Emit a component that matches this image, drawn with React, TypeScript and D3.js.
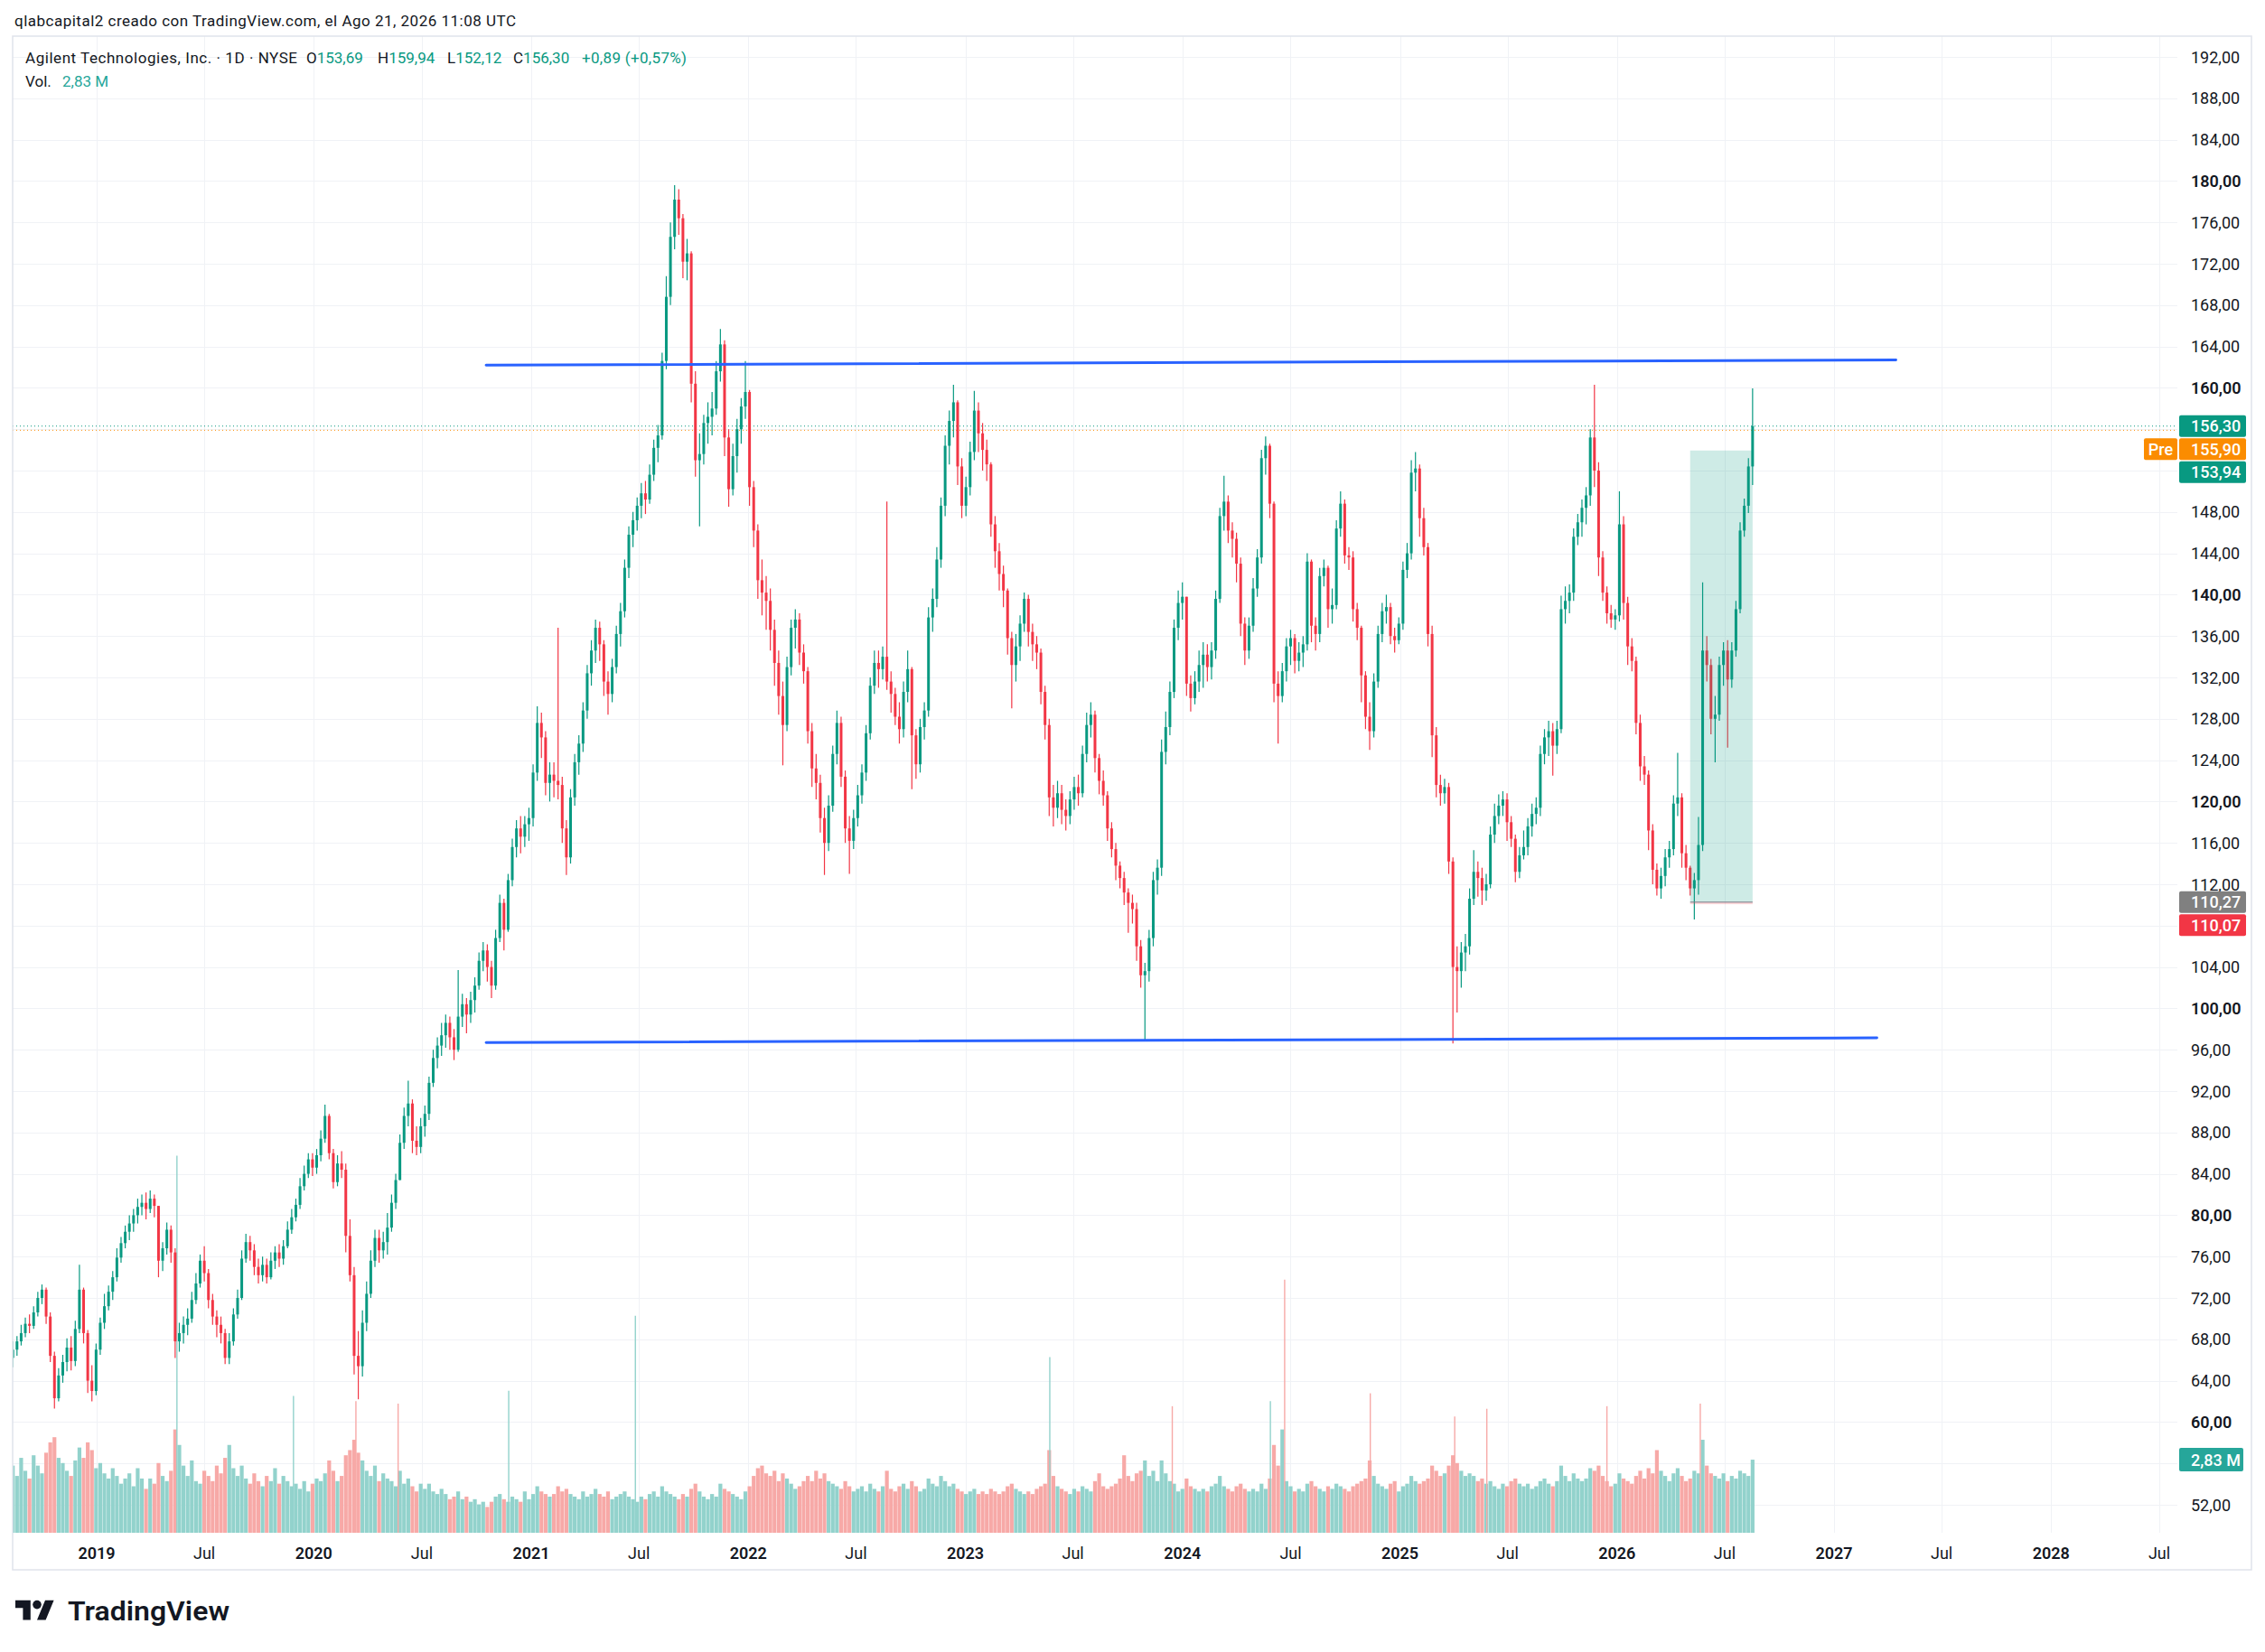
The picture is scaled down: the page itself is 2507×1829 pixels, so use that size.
import * as d3 from "d3";
import React, { useEffect, useRef } from "react";

const W = 2507;
const H = 1829;
const FONT = "Roboto, 'Noto Sans', Arial, sans-serif";

// weekly candles, first week starts 2018-08-13
const FIRST_WEEK = "2018-08-13";
const FIRST_OPEN = 66.2;

const closes = [
  67.0, 67.8, 68.6, 69.5, 69.3, 70.6, 72.0, 72.8, 70.2, 66.4, 62.3, 64.5, 65.8,
  67.2, 65.9, 69.0, 72.8, 68.6, 64.0, 63.0, 67.0, 69.6, 71.2, 72.6, 74.0, 75.9,
  77.3, 78.4, 79.2, 80.0, 80.8, 81.2, 80.6, 81.6, 80.9, 75.6, 76.8, 78.6, 76.4,
  67.8, 68.6, 69.4, 70.0, 71.8, 73.4, 75.6, 74.4, 71.8, 70.2, 69.4, 68.6, 66.2,
  67.8, 70.4, 72.0, 75.8, 77.4, 76.6, 75.0, 74.2, 75.2, 74.0, 75.6, 76.4, 75.8,
  77.0, 78.6, 79.8, 81.0, 82.8, 84.0, 85.4, 84.6, 85.8, 87.4, 89.6, 86.0, 83.2,
  85.0, 84.4, 78.0, 74.2, 66.4, 65.4, 69.6, 72.4, 75.6, 77.8, 76.6, 77.4, 78.8,
  81.2, 83.4, 87.0, 89.6, 90.8, 87.2, 86.6, 88.6, 89.8, 92.8, 95.2, 96.4, 97.4,
  98.6, 97.2, 96.0, 99.2, 100.4, 99.4, 100.8, 102.2, 104.6, 105.6, 104.0, 102.2, 106.8,
  110.2, 107.6, 112.4, 115.6, 117.4, 116.6, 117.8, 118.4, 122.8, 127.6, 126.2, 121.8, 122.6,
  122.0, 121.6, 117.4, 114.6, 120.4, 123.8, 125.6, 128.8, 132.4, 134.6, 136.8, 135.2, 131.6,
  130.4, 133.0, 136.2, 138.4, 142.6, 145.8, 147.2, 148.6, 149.8, 149.2, 151.6, 154.2, 155.4,
  162.6, 168.8, 174.6, 178.2, 176.4, 172.2, 173.0, 160.4, 153.0, 153.6, 156.6, 157.2, 158.0,
  161.6, 164.2, 155.2, 150.2, 153.4, 156.0, 158.2, 159.6, 150.4, 146.2, 141.4, 140.2, 139.4,
  136.6, 133.4, 130.2, 127.4, 133.0, 136.8, 137.6, 134.4, 132.6, 126.8, 123.2, 121.8, 118.4,
  116.0, 119.6, 124.6, 127.6, 122.4, 117.4, 116.2, 118.4, 120.6, 122.8, 126.6, 131.2, 133.4,
  132.8, 134.0, 131.6, 130.4, 128.2, 127.0, 130.6, 132.8, 126.4, 123.6, 127.2, 128.8, 137.8,
  139.6, 143.4, 148.6, 154.4, 156.8, 158.6, 152.4, 148.6, 150.4, 153.8, 157.8, 155.6, 154.0,
  152.6, 146.8, 144.2, 142.0, 140.4, 135.8, 133.2, 135.0, 137.2, 139.6, 136.4, 135.2, 134.4,
  130.6, 127.4, 120.4, 119.4, 120.8, 119.2, 118.6, 120.2, 121.4, 120.8, 124.6, 127.4, 128.4,
  124.2, 122.0, 120.6, 117.4, 115.4, 113.8, 112.6, 111.2, 110.2, 109.6, 106.0, 103.2, 103.6,
  106.8, 112.4, 113.6, 124.8, 127.2, 130.6, 136.8, 139.2, 139.8, 131.4, 130.0, 131.6, 133.2,
  134.2, 133.0, 134.6, 139.6, 147.6, 149.0, 146.2, 145.4, 143.0, 137.2, 134.6, 137.0, 140.6,
  143.6, 153.2, 154.4, 148.8, 131.4, 130.2, 132.6, 135.0, 135.8, 133.6, 134.4, 135.2, 143.2,
  137.0, 136.2, 141.8, 142.6, 138.6, 139.0, 146.4, 148.8, 143.8, 143.6, 138.6, 136.8, 132.2,
  128.2, 126.8, 131.6, 136.2, 138.4, 138.8, 136.0, 135.6, 137.2, 142.4, 144.0, 151.8, 152.2,
  147.4, 144.6, 136.2, 126.4, 121.6, 120.8, 121.4, 114.2, 104.0, 103.6, 105.4, 106.0, 110.6,
  113.2, 112.6, 111.4, 112.0, 116.8, 118.6, 119.6, 120.2, 118.0, 116.4, 113.2, 114.8, 115.6,
  117.6, 118.8, 119.4, 124.6, 126.2, 126.8, 125.4, 127.0, 138.6, 139.4, 140.2, 145.6, 147.0,
  148.4, 149.6, 155.2, 152.0, 143.6, 140.2, 138.2, 137.6, 138.0, 146.8, 139.2, 135.0, 133.6,
  127.6, 123.4, 122.6, 117.2, 113.4, 111.6, 112.8, 114.6, 115.4, 119.8, 120.4, 115.0, 113.6,
  111.6, 112.4, 115.8, 134.6, 133.2, 128.0, 128.4, 133.2, 134.6, 131.8, 134.6, 138.6, 146.2,
  148.6, 152.4, 156.3,
];

const highs = [
  67.8, 68.3, 69.4, 70.1, 70.4, 71.2, 72.6, 73.3, 73.0, 70.6, 66.8, 65.2, 66.5,
  68.1, 68.3, 69.8, 75.2, 73.0, 68.9, 65.5, 67.6, 70.1, 72.4, 73.2, 74.6, 76.8,
  77.9, 79.0, 80.0, 80.6, 81.6, 82.0, 82.2, 82.4, 82.0, 80.8, 77.4, 79.3, 79.0,
  76.8, 69.6, 70.2, 71.0, 72.6, 74.4, 76.2, 77.0, 74.8, 72.4, 70.8, 70.2, 69.0,
  68.6, 71.0, 72.8, 76.6, 78.2, 78.0, 77.2, 75.8, 76.0, 75.8, 76.4, 77.0, 77.2,
  77.6, 79.4, 80.6, 81.6, 83.6, 84.8, 86.0, 86.0, 86.4, 88.2, 90.7, 89.8, 86.4,
  85.8, 86.2, 85.0, 79.6, 75.0, 68.8, 70.8, 73.6, 76.6, 78.6, 78.6, 78.4, 80.2,
  82.0, 84.0, 87.8, 90.4, 93.0, 91.2, 88.6, 89.4, 90.6, 93.4, 96.0, 97.2, 98.6,
  99.4, 99.2, 98.0, 103.7, 101.4, 101.0, 101.6, 103.0, 105.4, 106.4, 106.2, 104.6, 107.6,
  111.0, 110.6, 113.0, 116.4, 118.2, 118.6, 118.6, 119.4, 123.6, 129.2, 128.6, 126.8, 123.8,
  123.8, 136.8, 122.4, 118.2, 121.2, 124.6, 126.4, 129.6, 133.2, 135.6, 137.6, 137.4, 135.6,
  132.6, 133.8, 137.0, 139.2, 143.4, 146.6, 148.0, 149.4, 150.8, 151.0, 152.6, 155.0, 156.4,
  163.4, 170.8, 176.0, 179.6, 179.2, 176.8, 174.4, 173.2, 161.6, 155.6, 157.4, 158.6, 159.6,
  162.6, 165.7, 164.6, 156.0, 154.6, 157.0, 159.0, 162.6, 159.8, 151.0, 146.8, 143.4, 141.8,
  140.6, 137.6, 134.6, 131.6, 134.0, 137.6, 138.6, 138.2, 135.2, 133.0, 127.6, 124.6, 122.6,
  119.4, 120.6, 125.4, 128.8, 128.2, 123.0, 118.6, 119.2, 121.6, 123.6, 127.4, 132.0, 134.6,
  134.6, 135.0, 149.0, 132.6, 131.0, 129.6, 131.6, 134.6, 133.0, 127.0, 128.0, 129.6, 138.8,
  140.6, 144.6, 149.4, 155.4, 157.8, 160.3, 158.8, 153.2, 151.4, 154.8, 159.7, 158.6, 156.6,
  155.0, 152.8, 147.6, 145.0, 142.8, 140.6, 136.4, 136.2, 138.0, 140.2, 140.0, 137.2, 136.0,
  134.8, 131.2, 128.0, 121.6, 122.0, 121.6, 120.2, 121.0, 122.4, 122.6, 125.4, 128.6, 129.6,
  128.8, 124.6, 123.0, 121.0, 118.0, 116.0, 114.2, 113.2, 111.6, 111.0, 110.2, 106.6, 104.4,
  107.6, 113.2, 114.4, 126.0, 128.7, 131.6, 137.6, 140.4, 141.2, 139.6, 132.2, 132.6, 134.6,
  135.4, 135.2, 135.4, 140.4, 148.4, 151.5, 149.6, 147.0, 146.0, 143.6, 137.8, 137.8, 141.6,
  144.4, 154.0, 155.3, 154.6, 149.0, 132.6, 133.4, 135.8, 136.6, 136.2, 135.4, 136.0, 144.0,
  143.4, 137.8, 142.6, 143.4, 142.8, 140.6, 147.2, 150.0, 149.2, 144.6, 144.2, 139.2, 137.0,
  132.6, 129.6, 132.4, 137.0, 139.2, 140.0, 139.2, 136.8, 137.8, 143.2, 145.0, 153.0, 153.8,
  152.6, 148.4, 145.0, 137.0, 127.2, 122.6, 122.2, 121.8, 114.6, 106.0, 106.4, 107.2, 111.6,
  115.3, 114.2, 113.6, 113.0, 117.6, 119.8, 120.7, 121.0, 120.8, 118.6, 116.8, 115.6, 117.2,
  118.4, 119.8, 120.4, 125.4, 127.0, 127.8, 127.6, 127.8, 139.9, 140.8, 141.0, 146.4, 147.8,
  149.2, 150.4, 156.0, 160.3, 152.8, 144.2, 140.8, 139.0, 138.6, 150.0, 147.6, 139.8, 135.8,
  134.0, 128.4, 124.4, 123.0, 117.8, 114.0, 113.6, 115.4, 116.2, 120.6, 124.7, 120.8, 115.8,
  113.8, 113.1, 118.5, 141.2, 136.0, 133.8, 130.2, 134.0, 135.4, 135.6, 135.4, 139.4, 147.0,
  149.3, 153.2, 159.94,
];

const lows = [
  65.3, 66.4, 67.4, 68.2, 68.6, 69.0, 70.2, 71.4, 69.5, 65.8, 61.3, 62.0, 63.8,
  64.9, 65.0, 65.4, 68.6, 67.6, 62.8, 62.0, 62.6, 66.5, 69.0, 70.8, 71.8, 73.6,
  75.4, 76.8, 77.6, 78.4, 79.2, 80.0, 79.6, 80.2, 79.8, 74.0, 74.6, 76.2, 75.4,
  66.2, 66.8, 67.6, 68.4, 69.6, 71.4, 73.0, 73.6, 71.0, 69.4, 68.2, 67.6, 65.6,
  65.6, 67.4, 70.0, 71.8, 75.4, 75.6, 74.2, 73.4, 73.6, 73.4, 73.8, 74.8, 75.0,
  75.2, 76.8, 78.2, 79.4, 80.6, 82.4, 83.6, 83.8, 84.0, 85.2, 87.0, 85.4, 82.6,
  82.8, 83.6, 76.4, 73.6, 64.6, 62.2, 64.4, 68.8, 72.0, 75.0, 75.4, 75.8, 76.2,
  78.4, 80.6, 83.4, 86.4, 88.6, 86.0, 85.8, 86.0, 87.6, 89.2, 92.4, 94.2, 95.4,
  96.2, 96.0, 95.0, 95.8, 98.2, 97.6, 98.6, 99.6, 101.8, 103.6, 102.6, 101.0, 101.8,
  106.4, 105.6, 107.4, 111.8, 114.6, 115.0, 115.6, 116.2, 117.6, 122.0, 124.2, 120.6, 120.0,
  120.4, 120.2, 116.0, 112.9, 114.0, 119.6, 122.6, 124.8, 128.0, 131.2, 133.4, 133.6, 130.2,
  128.4, 129.6, 132.4, 135.0, 137.8, 141.6, 144.6, 146.2, 147.4, 147.8, 148.8, 151.0, 152.8,
  155.0, 161.8, 168.0, 173.4, 174.8, 170.6, 170.4, 158.6, 151.4, 146.6, 152.6, 154.6, 155.4,
  157.4, 160.6, 153.4, 148.5, 149.6, 151.8, 154.6, 157.0, 148.6, 144.6, 139.6, 138.0, 136.6,
  134.6, 131.2, 128.4, 123.5, 126.8, 132.2, 134.8, 133.2, 131.4, 125.6, 121.4, 120.2, 117.0,
  112.9, 115.2, 119.0, 123.6, 121.4, 116.0, 113.0, 115.4, 117.6, 119.8, 122.0, 126.0, 130.4,
  131.0, 131.8, 130.8, 128.6, 127.4, 125.6, 126.2, 129.6, 121.2, 122.2, 122.8, 126.0, 128.2,
  136.4, 138.8, 142.6, 147.6, 152.6, 155.2, 150.6, 147.4, 147.6, 149.6, 153.0, 153.8, 152.0,
  151.0, 145.6, 142.6, 140.4, 138.8, 134.2, 129.0, 131.6, 133.6, 136.4, 135.0, 133.6, 132.8,
  129.4, 126.0, 118.6, 117.6, 118.4, 117.8, 117.2, 117.8, 119.2, 119.6, 120.4, 123.8, 126.2,
  122.8, 120.7, 119.6, 116.2, 114.6, 112.4, 111.6, 110.0, 107.3, 108.2, 104.6, 102.0, 96.8,
  102.6, 106.0, 111.0, 112.8, 123.6, 126.4, 130.0, 135.6, 137.6, 130.2, 128.7, 129.4, 130.6,
  131.0, 131.6, 131.8, 133.8, 139.2, 146.2, 145.0, 143.6, 141.2, 136.0, 133.2, 133.8, 136.4,
  139.8, 143.0, 151.6, 147.4, 129.6, 125.6, 129.6, 131.6, 133.2, 132.4, 132.6, 133.0, 134.6,
  135.4, 134.6, 135.4, 140.8, 136.8, 137.2, 138.6, 145.6, 143.0, 142.4, 137.4, 135.6, 129.6,
  127.0, 125.0, 126.2, 131.0, 135.4, 137.2, 135.2, 134.4, 135.2, 136.6, 141.6, 143.4, 150.0,
  145.6, 143.8, 135.0, 124.3, 120.4, 119.6, 119.8, 113.0, 96.6, 99.6, 102.0, 103.6, 105.2,
  110.0, 110.8, 110.0, 110.4, 111.6, 116.0, 117.8, 118.6, 116.2, 115.6, 112.2, 112.6, 114.4,
  114.8, 116.6, 117.8, 118.6, 123.6, 124.4, 122.5, 124.6, 126.6, 137.2, 138.2, 139.4, 144.8,
  145.6, 146.8, 148.6, 150.4, 141.8, 139.4, 137.2, 136.8, 136.6, 137.4, 137.6, 133.2, 132.6,
  126.5, 122.0, 121.6, 115.3, 112.0, 110.9, 110.6, 111.8, 113.6, 114.8, 118.6, 113.6, 112.4,
  110.9, 108.6, 111.0, 115.2, 131.6, 126.5, 123.8, 127.8, 131.2, 125.2, 131.0, 134.0, 138.2,
  145.6, 147.9, 150.6,
];

// average daily volume of each week, millions
const volumes = [
  2.6, 2.2, 2.9, 2.4, 2.1, 3.0, 2.6, 2.3, 3.1, 3.5, 3.7, 2.9, 2.7,
  2.4, 2.2, 2.8, 3.3, 2.9, 3.5, 3.2, 2.5, 2.7, 2.3, 2.1, 2.5, 2.2,
  1.9, 2.1, 2.3, 1.8, 2.5, 2.1, 1.7, 2.1, 1.9, 2.7, 2.2, 2.0, 2.4,
  4.0, 3.4, 2.6, 2.2, 2.8, 2.0, 1.9, 2.4, 2.2, 2.0, 2.6, 2.3, 2.9,
  3.4, 2.5, 2.2, 2.6, 2.1, 1.9, 2.3, 2.0, 1.8, 2.2, 2.0, 2.5, 1.9,
  2.2, 2.0, 1.8, 1.9, 1.7, 2.0, 1.6, 1.9, 2.1, 2.0, 2.3, 2.8, 2.4,
  2.0, 2.2, 3.0, 3.2, 3.6, 3.1, 2.8, 2.4, 2.2, 2.6, 2.0, 2.3, 2.1,
  2.0, 1.8, 2.4, 1.9, 2.1, 1.8, 1.6, 1.9, 1.7, 1.9, 1.6, 1.5, 1.7,
  1.5, 1.3, 1.4, 1.6, 1.3, 1.4, 1.2, 1.3, 1.1, 1.2, 1.0, 1.2, 1.4,
  1.5, 1.3, 1.2, 1.4, 1.3, 1.2, 1.6, 1.3, 1.5, 1.8, 1.6, 1.5, 1.4,
  1.5, 1.8, 1.6, 1.7, 1.5, 1.4, 1.3, 1.6, 1.4, 1.5, 1.7, 1.5, 1.4,
  1.6, 1.3, 1.4, 1.5, 1.6, 1.4, 1.3, 1.2, 1.4, 1.3, 1.5, 1.6, 1.4,
  1.8, 1.6, 1.5, 1.4, 1.3, 1.5, 1.4, 1.7, 1.9, 1.6, 1.4, 1.3, 1.5,
  1.4, 1.9, 1.7, 1.6, 1.5, 1.4, 1.3, 1.6, 1.8, 2.2, 2.5, 2.6, 2.3,
  2.2, 2.4, 2.0, 2.3, 2.1, 1.9, 1.7, 1.8, 2.0, 2.2, 2.0, 2.4, 2.1,
  2.3, 2.0, 1.9, 1.8, 1.7, 2.0, 1.8, 1.6, 1.7, 1.8, 1.6, 1.9, 1.7,
  1.6, 1.8, 2.4, 1.7, 1.6, 1.8, 1.9, 1.7, 2.0, 1.8, 1.6, 1.7, 2.1,
  1.9, 1.8, 2.2, 2.0, 1.8, 1.9, 1.7, 1.6, 1.5, 1.6, 1.7, 1.5, 1.6,
  1.5, 1.7, 1.6, 1.5, 1.6, 1.8, 1.9, 1.7, 1.6, 1.5, 1.6, 1.5, 1.7,
  1.8, 1.9, 3.2, 2.2, 1.8, 1.7, 1.6, 1.5, 1.7, 1.6, 1.8, 1.7, 1.6,
  2.0, 2.3, 1.8, 1.7, 1.8, 1.9, 2.1, 3.0, 2.2, 2.0, 2.3, 2.4, 2.8,
  2.2, 2.4, 2.0, 2.8, 2.3, 2.0, 1.9, 1.6, 1.7, 2.1, 1.8, 1.7, 1.6,
  1.7, 1.6, 1.8, 1.9, 2.2, 1.8, 1.7, 1.6, 1.8, 1.9, 1.7, 1.6, 1.7,
  1.6, 1.9, 1.7, 2.1, 3.4, 2.6, 4.0, 2.0, 1.8, 1.6, 1.7, 1.6, 1.9,
  2.0, 1.8, 1.7, 1.6, 1.8, 1.7, 1.9, 1.8, 1.7, 1.6, 1.8, 1.9, 2.0,
  2.1, 2.8, 2.2, 1.9, 1.8, 1.7, 1.9, 2.0, 1.6, 1.8, 1.9, 2.2, 2.0,
  1.9, 2.0, 2.1, 2.6, 2.4, 2.2, 2.3, 2.6, 3.0, 2.7, 2.4, 2.2, 2.3,
  2.2, 2.0, 2.1, 1.9, 2.0, 1.8, 1.7, 1.9, 1.8, 2.0, 2.1, 1.9, 1.8,
  1.9, 1.7, 1.8, 2.0, 2.1, 1.9, 1.8, 2.0, 2.6, 2.2, 2.0, 2.3, 2.1,
  2.0, 2.1, 2.5, 2.4, 2.6, 2.2, 2.0, 1.8, 1.9, 2.3, 2.1, 2.0, 1.9,
  2.2, 2.4, 2.1, 2.5, 2.3, 3.2, 2.4, 2.2, 2.0, 2.3, 2.5, 2.2, 2.0,
  2.1, 2.4, 2.3, 3.6, 2.6, 2.3, 2.2, 2.1, 2.3, 2.0, 2.2, 2.1, 2.4,
  2.3, 2.2, 2.83,
];

// single-day volume spikes that stand out above the weekly bars
const spikeDates = [
  "2019-05-16", "2019-11-28", "2020-03-12", "2020-05-22", "2020-11-24", "2021-06-25",
  "2023-05-23", "2023-12-15", "2024-05-28", "2024-06-21", "2024-11-12", "2025-04-03",
  "2025-05-27", "2025-12-15", "2026-05-21",
];
const spikeVolumes = [14.6, 5.3, 5.1, 5.0, 5.5, 8.4, 6.8, 4.9, 5.1, 9.8, 5.4, 4.5, 4.8, 4.9, 5.0];
const spikeUp = [true, true, false, false, true, true, true, false, true, false, false, false, false, false, false];

const priceTicks = [
  52, 56, 60, 64, 68, 72, 76, 80, 84, 88, 92, 96, 100, 104, 108, 112, 116, 120,
  124, 128, 132, 136, 140, 144, 148, 152, 156, 160, 164, 168, 172, 176, 180, 184, 188, 192,
];

const timeTickDates = [
  "2019-01-01", "2019-07-01", "2020-01-01", "2020-07-01", "2021-01-01", "2021-07-01",
  "2022-01-01", "2022-07-01", "2023-01-01", "2023-07-01", "2024-01-01", "2024-07-01",
  "2025-01-01", "2025-07-01", "2026-01-01", "2026-07-01", "2027-01-01", "2027-07-01",
  "2028-01-01", "2028-07-01",
];
const timeTickLabels = [
  "2019", "Jul", "2020", "Jul", "2021", "Jul", "2022", "Jul", "2023", "Jul",
  "2024", "Jul", "2025", "Jul", "2026", "Jul", "2027", "Jul", "2028", "Jul",
];

// blue horizontal trend lines: [date, price]
const upperLine: [string, number][] = [["2020-10-17", 162.2], ["2027-04-15", 162.7]];
const lowerLine: [string, number][] = [["2020-10-17", 96.7], ["2027-03-14", 97.15]];

// long position tool
const positionStart = "2026-05-04";
const positionEnd = "2026-08-17";
const positionTarget = 153.94;
const positionEntry = 110.27;
const positionStop = 110.07;

const lastPrice = 156.3;
const prePrice = 155.9;
const lastVolume = 2.83;

const UP = "#089981";
const DOWN = "#f23645";
const ORANGE = "#fb8c00";
const TEXT = "#131722";

const fmt = (v: number) => v.toFixed(2).replace(".", ",");

function draw(svg: d3.Selection<SVGSVGElement, unknown, null, undefined>) {
  const pane = { left: 14, right: 2410, top: 40, bottom: 1697 };

  const x = d3
    .scaleUtc()
    .domain([new Date("2019-01-01"), new Date("2028-07-01")])
    .range([107, 2390]);
  const y = d3.scaleLinear().domain([52, 192]).range([1666, 63]);
  const vy = d3.scaleLinear().domain([0, 1]).range([pane.bottom, pane.bottom - 28.6]);

  const start = new Date(FIRST_WEEK);
  const n = Math.min(closes.length, highs.length, lows.length, volumes.length);
  const bars = d3.range(n).map((i) => {
    const o = i === 0 ? FIRST_OPEN : closes[i - 1];
    const c = closes[i];
    return {
      date: d3.utcDay.offset(start, 7 * i),
      o,
      c,
      h: Math.max(highs[i], o, c),
      l: Math.min(lows[i], o, c),
      v: volumes[i],
    };
  });

  svg.append("rect").attr("width", W).attr("height", H).attr("fill", "#ffffff");

  svg
    .append("defs")
    .append("clipPath")
    .attr("id", "pane-clip")
    .append("rect")
    .attr("x", pane.left)
    .attr("y", pane.top)
    .attr("width", pane.right - pane.left)
    .attr("height", pane.bottom - pane.top);

  // grid
  const grid = svg.append("g").attr("stroke", "#f0f2f6").attr("stroke-width", 1);
  grid
    .selectAll("line.h")
    .data(priceTicks)
    .join("line")
    .attr("x1", pane.left)
    .attr("x2", pane.right)
    .attr("y1", (d) => Math.round(y(d)) + 0.5)
    .attr("y2", (d) => Math.round(y(d)) + 0.5);
  grid
    .selectAll("line.v")
    .data(timeTickDates)
    .join("line")
    .attr("x1", (d) => Math.round(x(new Date(d))) + 0.5)
    .attr("x2", (d) => Math.round(x(new Date(d))) + 0.5)
    .attr("y1", pane.top)
    .attr("y2", pane.bottom);

  const plot = svg.append("g").attr("clip-path", "url(#pane-clip)");

  // volume
  plot
    .append("g")
    .selectAll("rect")
    .data(bars)
    .join("rect")
    .attr("x", (d) => x(d.date) - 2.1)
    .attr("width", 4.2)
    .attr("y", (d) => vy(d.v))
    .attr("height", (d) => pane.bottom - vy(d.v))
    .attr("fill", (d) => (d.c >= d.o ? "#92d2cc" : "#f7a9a7"));

  plot
    .append("g")
    .selectAll("line")
    .data(spikeDates.map((d, i) => ({ date: new Date(d), v: spikeVolumes[i], up: spikeUp[i] })))
    .join("line")
    .attr("x1", (d) => x(d.date))
    .attr("x2", (d) => x(d.date))
    .attr("y1", pane.bottom)
    .attr("y2", (d) => vy(d.v))
    .attr("stroke", (d) => (d.up ? "#92d2cc" : "#f7a9a7"))
    .attr("stroke-width", 1.4);

  // last price / pre-market dotted lines
  plot
    .append("line")
    .attr("x1", pane.left)
    .attr("x2", pane.right)
    .attr("y1", y(lastPrice))
    .attr("y2", y(lastPrice))
    .attr("stroke", UP)
    .attr("stroke-width", 1)
    .attr("stroke-dasharray", "1 3");
  plot
    .append("line")
    .attr("x1", pane.left)
    .attr("x2", pane.right)
    .attr("y1", y(prePrice))
    .attr("y2", y(prePrice))
    .attr("stroke", ORANGE)
    .attr("stroke-width", 1)
    .attr("stroke-dasharray", "1 3");

  // candles
  const candles = plot.append("g");
  candles
    .selectAll("line")
    .data(bars)
    .join("line")
    .attr("x1", (d) => x(d.date))
    .attr("x2", (d) => x(d.date))
    .attr("y1", (d) => y(d.h))
    .attr("y2", (d) => y(d.l))
    .attr("stroke", (d) => (d.c >= d.o ? UP : DOWN))
    .attr("stroke-width", 1.2);
  candles
    .selectAll("rect")
    .data(bars)
    .join("rect")
    .attr("x", (d) => x(d.date) - 1.5)
    .attr("width", 3)
    .attr("y", (d) => y(Math.max(d.o, d.c)))
    .attr("height", (d) => Math.max(1, Math.abs(y(d.o) - y(d.c))))
    .attr("fill", (d) => (d.c >= d.o ? UP : DOWN));

  // long position tool
  const px0 = x(new Date(positionStart));
  const px1 = x(new Date(positionEnd));
  plot
    .append("rect")
    .attr("x", px0)
    .attr("width", px1 - px0)
    .attr("y", y(positionTarget))
    .attr("height", y(positionEntry) - y(positionTarget))
    .attr("fill", "rgba(8,153,129,0.2)");
  plot
    .append("rect")
    .attr("x", px0)
    .attr("width", px1 - px0)
    .attr("y", y(positionEntry))
    .attr("height", Math.max(2, y(positionStop) - y(positionEntry)))
    .attr("fill", "rgba(242,54,69,0.2)");
  plot
    .append("line")
    .attr("x1", px0)
    .attr("x2", px1)
    .attr("y1", y(positionEntry))
    .attr("y2", y(positionEntry))
    .attr("stroke", "#787b86")
    .attr("stroke-width", 1);

  // trend lines
  const line = d3
    .line<[string, number]>()
    .x((d) => x(new Date(d[0])))
    .y((d) => y(d[1]));
  [upperLine, lowerLine].forEach((pts) => {
    plot
      .append("path")
      .attr("d", line(pts))
      .attr("fill", "none")
      .attr("stroke", "#2962ff")
      .attr("stroke-width", 3)
      .attr("stroke-linecap", "round");
  });

  // frame
  svg
    .append("rect")
    .attr("x", pane.left)
    .attr("y", pane.top)
    .attr("width", 2492 - pane.left)
    .attr("height", 1738 - pane.top)
    .attr("fill", "none")
    .attr("stroke", "#e0e3eb")
    .attr("stroke-width", 1.5);

  // price axis labels, stacked so they do not overlap
  const tags = [
    { v: lastPrice, color: UP, pre: false },
    { v: prePrice, color: ORANGE, pre: true },
    { v: positionTarget, color: UP, pre: false },
    { v: positionEntry, color: "#808080", pre: false },
    { v: positionStop, color: DOWN, pre: false },
  ].sort((a, b) => b.v - a.v);
  let prevY = -Infinity;
  const tagYs: number[] = [];
  tags.forEach((t) => {
    const cy = Math.max(y(t.v), prevY + 25.5);
    prevY = cy;
    tagYs.push(cy);
  });
  tagYs.push(vy(lastVolume));

  // tick labels hidden behind a tag are skipped, as the terminal does
  const visibleTicks = priceTicks.filter((t) => tagYs.every((ty) => Math.abs(y(t) - ty) > 15));
  svg
    .append("g")
    .selectAll("text")
    .data(visibleTicks)
    .join("text")
    .attr("x", 2425)
    .attr("y", (d) => y(d))
    .attr("dominant-baseline", "central")
    .attr("font-family", FONT)
    .attr("font-size", 18)
    .attr("font-weight", (d) => (d % 20 === 0 ? 600 : 400))
    .attr("fill", TEXT)
    .text((d) => fmt(d));

  // time axis
  svg
    .append("g")
    .selectAll("text")
    .data(timeTickDates)
    .join("text")
    .attr("x", (d) => x(new Date(d)))
    .attr("y", 1719)
    .attr("text-anchor", "middle")
    .attr("dominant-baseline", "central")
    .attr("font-family", FONT)
    .attr("font-size", 18)
    .attr("font-weight", (d, i) => (timeTickLabels[i] === "Jul" ? 400 : 600))
    .attr("fill", TEXT)
    .text((d, i) => timeTickLabels[i]);

  const tagG = svg.append("g").attr("font-family", FONT).attr("font-size", 18);
  tags.forEach((t, i) => {
    const cy = tagYs[i];
    tagG
      .append("rect")
      .attr("x", 2412)
      .attr("y", cy - 12)
      .attr("width", 74)
      .attr("height", 24)
      .attr("rx", 2)
      .attr("fill", t.color);
    tagG
      .append("text")
      .attr("x", 2425)
      .attr("y", cy)
      .attr("dominant-baseline", "central")
      .attr("fill", "#ffffff")
      .attr("font-weight", 500)
      .text(fmt(t.v));
    if (t.pre) {
      tagG
        .append("rect")
        .attr("x", 2373)
        .attr("y", cy - 12)
        .attr("width", 37)
        .attr("height", 24)
        .attr("rx", 2)
        .attr("fill", t.color);
      tagG
        .append("text")
        .attr("x", 2391.5)
        .attr("y", cy)
        .attr("text-anchor", "middle")
        .attr("dominant-baseline", "central")
        .attr("fill", "#ffffff")
        .attr("font-weight", 500)
        .text("Pre");
    }
  });
  tagG
    .append("rect")
    .attr("x", 2412)
    .attr("y", vy(lastVolume) - 13)
    .attr("width", 71)
    .attr("height", 26)
    .attr("rx", 2)
    .attr("fill", "#26a69a");
  tagG
    .append("text")
    .attr("x", 2425)
    .attr("y", vy(lastVolume))
    .attr("dominant-baseline", "central")
    .attr("fill", "#ffffff")
    .attr("font-weight", 500)
    .text(fmt(lastVolume) + " M");

  // header
  const head = svg.append("g").attr("font-family", FONT).attr("fill", TEXT);
  head
    .append("text")
    .attr("x", 16)
    .attr("y", 29)
    .attr("font-size", 17)
    .attr("textLength", 555)
    .attr("lengthAdjust", "spacing")
    .text("qlabcapital2 creado con TradingView.com, el Ago 21, 2026 11:08 UTC");

  const legend = head.append("g").attr("font-size", 17);
  legend
    .append("text")
    .attr("x", 28)
    .attr("y", 70)
    .attr("textLength", 301)
    .attr("lengthAdjust", "spacing")
    .text("Agilent Technologies, Inc. · 1D · NYSE");
  const ohlc: [string, number, number][] = [
    ["O", 153.69, 339],
    ["H", 159.94, 418],
    ["L", 152.12, 495],
    ["C", 156.3, 568],
  ];
  ohlc.forEach(([k, v, px]) => {
    const t = legend.append("text").attr("x", px).attr("y", 70);
    t.append("tspan").text(k);
    t.append("tspan").attr("fill", UP).text(fmt(v));
  });
  legend
    .append("text")
    .attr("x", 644)
    .attr("y", 70)
    .attr("fill", UP)
    .attr("textLength", 116)
    .attr("lengthAdjust", "spacing")
    .text("+0,89 (+0,57%)");

  const vol = head.append("text").attr("y", 96).attr("font-size", 17);
  vol.append("tspan").attr("x", 28).text("Vol.");
  vol.append("tspan").attr("x", 69).attr("fill", "#26a69a").text(fmt(lastVolume) + " M");

  // TradingView logo
  const logo = svg.append("g").attr("fill", TEXT);
  logo
    .append("g")
    .attr("transform", "translate(17,1767) scale(1.2)")
    .call((g) => {
      g.append("path").attr("d", "M14 22H7V11H0V4h14v18zM28 22h-8l7.5-18h8L28 22z");
      g.append("circle").attr("cx", 20).attr("cy", 8).attr("r", 4);
    });
  logo
    .append("text")
    .attr("x", 75)
    .attr("y", 1794)
    .attr("font-family", FONT)
    .attr("font-size", 29)
    .attr("font-weight", 600)
    .attr("textLength", 179)
    .attr("lengthAdjust", "spacingAndGlyphs")
    .text("TradingView");
}

export default function App() {
  const ref = useRef<SVGSVGElement>(null);

  useEffect(() => {
    const svg = d3.select(ref.current as SVGSVGElement);
    svg.selectAll("*").remove();
    draw(svg);
  }, []);

  return (
    <svg
      ref={ref}
      width={W}
      height={H}
      style={{ position: "absolute", left: 0, top: 0, display: "block" }}
    />
  );
}
